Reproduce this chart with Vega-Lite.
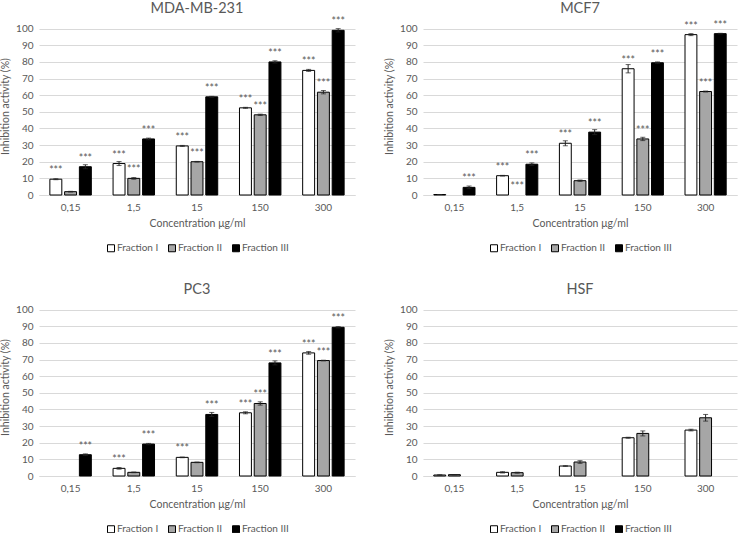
{
  "$schema": "https://vega.github.io/schema/vega-lite/v6.json",
  "padding": {"left": 0, "top": 0, "right": 2, "bottom": 0},
  "background": "white",
  "datasets": {
    "d": [
      {"cell": "MDA-MB-231", "conc": "0,15", "frac": "Fraction I", "v": 9.5, "e": 0.3, "sig": "***"},
      {"cell": "MDA-MB-231", "conc": "0,15", "frac": "Fraction II", "v": 2, "e": 0.2, "sig": ""},
      {"cell": "MDA-MB-231", "conc": "0,15", "frac": "Fraction III", "v": 17, "e": 1.2, "sig": "***"},
      {"cell": "MDA-MB-231", "conc": "1,5", "frac": "Fraction I", "v": 18.9, "e": 1.2, "sig": "***"},
      {"cell": "MDA-MB-231", "conc": "1,5", "frac": "Fraction II", "v": 10, "e": 0.5, "sig": "***"},
      {"cell": "MDA-MB-231", "conc": "1,5", "frac": "Fraction III", "v": 33.7, "e": 0.5, "sig": "***"},
      {"cell": "MDA-MB-231", "conc": "15", "frac": "Fraction I", "v": 29.5, "e": 0.3, "sig": "***"},
      {"cell": "MDA-MB-231", "conc": "15", "frac": "Fraction II", "v": 20, "e": 0.2, "sig": "***"},
      {"cell": "MDA-MB-231", "conc": "15", "frac": "Fraction III", "v": 59, "e": 0.3, "sig": "***"},
      {"cell": "MDA-MB-231", "conc": "150", "frac": "Fraction I", "v": 52.4, "e": 0.3, "sig": "***"},
      {"cell": "MDA-MB-231", "conc": "150", "frac": "Fraction II", "v": 48.2, "e": 0.4, "sig": "***"},
      {"cell": "MDA-MB-231", "conc": "150", "frac": "Fraction III", "v": 80, "e": 0.7, "sig": "***"},
      {"cell": "MDA-MB-231", "conc": "300", "frac": "Fraction I", "v": 74.9, "e": 0.6, "sig": "***"},
      {"cell": "MDA-MB-231", "conc": "300", "frac": "Fraction II", "v": 61.8, "e": 1, "sig": "***"},
      {"cell": "MDA-MB-231", "conc": "300", "frac": "Fraction III", "v": 99, "e": 1, "sig": "***"},

      {"cell": "MCF7", "conc": "0,15", "frac": "Fraction I", "v": 0.3, "e": 0, "sig": ""},
      {"cell": "MCF7", "conc": "0,15", "frac": "Fraction III", "v": 4.6, "e": 0.8, "sig": "***"},
      {"cell": "MCF7", "conc": "1,5", "frac": "Fraction I", "v": 11.6, "e": 0.2, "sig": "***"},
      {"cell": "MCF7", "conc": "1,5", "frac": "Fraction II", "v": 0, "e": 0, "sig": "***"},
      {"cell": "MCF7", "conc": "1,5", "frac": "Fraction III", "v": 18.5, "e": 0.8, "sig": "***"},
      {"cell": "MCF7", "conc": "15", "frac": "Fraction I", "v": 31.1, "e": 1.5, "sig": "***"},
      {"cell": "MCF7", "conc": "15", "frac": "Fraction II", "v": 8.6, "e": 0.4, "sig": ""},
      {"cell": "MCF7", "conc": "15", "frac": "Fraction III", "v": 37.8, "e": 1.5, "sig": "***"},
      {"cell": "MCF7", "conc": "150", "frac": "Fraction I", "v": 75.9, "e": 2.5, "sig": "***"},
      {"cell": "MCF7", "conc": "150", "frac": "Fraction II", "v": 33.7, "e": 1, "sig": "***"},
      {"cell": "MCF7", "conc": "150", "frac": "Fraction III", "v": 79.5, "e": 0.5, "sig": "***"},
      {"cell": "MCF7", "conc": "300", "frac": "Fraction I", "v": 96.4, "e": 0.6, "sig": "***"},
      {"cell": "MCF7", "conc": "300", "frac": "Fraction II", "v": 62.2, "e": 0.3, "sig": "***"},
      {"cell": "MCF7", "conc": "300", "frac": "Fraction III", "v": 97, "e": 0.2, "sig": "***"},

      {"cell": "PC3", "conc": "0,15", "frac": "Fraction III", "v": 12.8, "e": 0.5, "sig": "***"},
      {"cell": "PC3", "conc": "1,5", "frac": "Fraction I", "v": 4.6, "e": 0.5, "sig": "***"},
      {"cell": "PC3", "conc": "1,5", "frac": "Fraction II", "v": 2.2, "e": 0.2, "sig": ""},
      {"cell": "PC3", "conc": "1,5", "frac": "Fraction III", "v": 19.2, "e": 0.4, "sig": "***"},
      {"cell": "PC3", "conc": "15", "frac": "Fraction I", "v": 11.2, "e": 0.2, "sig": "***"},
      {"cell": "PC3", "conc": "15", "frac": "Fraction II", "v": 8.2, "e": 0.2, "sig": ""},
      {"cell": "PC3", "conc": "15", "frac": "Fraction III", "v": 37, "e": 1.2, "sig": "***"},
      {"cell": "PC3", "conc": "150", "frac": "Fraction I", "v": 38, "e": 0.6, "sig": "***"},
      {"cell": "PC3", "conc": "150", "frac": "Fraction II", "v": 43.6, "e": 1, "sig": "***"},
      {"cell": "PC3", "conc": "150", "frac": "Fraction III", "v": 68, "e": 1.2, "sig": "***"},
      {"cell": "PC3", "conc": "300", "frac": "Fraction I", "v": 74, "e": 0.8, "sig": "***"},
      {"cell": "PC3", "conc": "300", "frac": "Fraction II", "v": 69.4, "e": 0.2, "sig": "***"},
      {"cell": "PC3", "conc": "300", "frac": "Fraction III", "v": 89.4, "e": 0.4, "sig": "***"},

      {"cell": "HSF", "conc": "0,15", "frac": "Fraction I", "v": 0.6, "e": 0.1, "sig": ""},
      {"cell": "HSF", "conc": "0,15", "frac": "Fraction II", "v": 0.8, "e": 0.1, "sig": ""},
      {"cell": "HSF", "conc": "1,5", "frac": "Fraction I", "v": 2.2, "e": 0.4, "sig": ""},
      {"cell": "HSF", "conc": "1,5", "frac": "Fraction II", "v": 2, "e": 0.3, "sig": ""},
      {"cell": "HSF", "conc": "15", "frac": "Fraction I", "v": 6, "e": 0.2, "sig": ""},
      {"cell": "HSF", "conc": "15", "frac": "Fraction II", "v": 8.4, "e": 0.8, "sig": ""},
      {"cell": "HSF", "conc": "150", "frac": "Fraction I", "v": 23, "e": 0.3, "sig": ""},
      {"cell": "HSF", "conc": "150", "frac": "Fraction II", "v": 25.6, "e": 1.5, "sig": ""},
      {"cell": "HSF", "conc": "300", "frac": "Fraction I", "v": 27.6, "e": 0.5, "sig": ""},
      {"cell": "HSF", "conc": "300", "frac": "Fraction II", "v": 35, "e": 2, "sig": ""}
    ]
  },
  "data": {"name": "d"},
  "columns": 2,
  "spacing": {"row": 27, "column": 29},
  "resolve": {"scale": {"fill": "independent", "x": "independent", "y": "independent", "xOffset": "independent"}, "legend": {"fill": "independent"}},
  "concat": [
    {
      "title": "MDA-MB-231",
      "width": 316, "height": 178,
      "transform": [{"filter": "datum.cell === 'MDA-MB-231'"}],
      "encoding": {
        "x": {"field": "conc", "type": "nominal", "sort": ["0,15", "1,5", "15", "150", "300"], "scale": {"paddingInner": 0.344, "paddingOuter": 0.172}, "axis": {"title": "Concentration μg/ml"}},
        "xOffset": {"field": "frac", "type": "nominal", "sort": ["Fraction I", "Fraction II", "Fraction III"], "scale": {"domain": ["Fraction I", "Fraction II", "Fraction III"], "paddingInner": 0.19, "paddingOuter": 0}},
        "y": {"field": "v", "type": "quantitative", "scale": {"domain": [0, 107], "nice": false}, "axis": {"title": "Inhibition activity (%)", "values": [0, 10, 20, 30, 40, 50, 60, 70, 80, 90, 100]}}
      },
      "layer": [
        {"transform": [{"filter": "datum.v > 0"}], "mark": {"type": "bar", "stroke": "#000000", "strokeWidth": 1},
         "encoding": {"fill": {"field": "frac", "type": "nominal", "scale": {"domain": ["Fraction I", "Fraction II", "Fraction III"], "range": ["#ffffff", "#a6a6a6", "#000000"]}, "legend": {"orient": "bottom", "direction": "horizontal", "title": null}}}},
        {"transform": [{"filter": "datum.v > 0"}], "mark": {"type": "errorbar", "ticks": {"size": 5}, "color": "#222222"}, "encoding": {"yError": {"field": "e"}}},
        {"mark": {"type": "text", "dy": -5, "baseline": "alphabetic", "fontSize": 10.5, "color": "#595959"}, "encoding": {"text": {"field": "sig"}}}
      ]
    },
    {
      "title": "MCF7",
      "width": 314, "height": 178,
      "transform": [{"filter": "datum.cell === 'MCF7'"}],
      "encoding": {
        "x": {"field": "conc", "type": "nominal", "sort": ["0,15", "1,5", "15", "150", "300"], "scale": {"paddingInner": 0.344, "paddingOuter": 0.172}, "axis": {"title": "Concentration μg/ml"}},
        "xOffset": {"field": "frac", "type": "nominal", "sort": ["Fraction I", "Fraction II", "Fraction III"], "scale": {"domain": ["Fraction I", "Fraction II", "Fraction III"], "paddingInner": 0.19, "paddingOuter": 0}},
        "y": {"field": "v", "type": "quantitative", "scale": {"domain": [0, 107], "nice": false}, "axis": {"title": "Inhibition activity (%)", "values": [0, 10, 20, 30, 40, 50, 60, 70, 80, 90, 100]}}
      },
      "layer": [
        {"transform": [{"filter": "datum.v > 0"}], "mark": {"type": "bar", "stroke": "#000000", "strokeWidth": 1},
         "encoding": {"fill": {"field": "frac", "type": "nominal", "scale": {"domain": ["Fraction I", "Fraction II", "Fraction III"], "range": ["#ffffff", "#a6a6a6", "#000000"]}, "legend": {"orient": "bottom", "direction": "horizontal", "title": null}}}},
        {"transform": [{"filter": "datum.v > 0"}], "mark": {"type": "errorbar", "ticks": {"size": 5}, "color": "#222222"}, "encoding": {"yError": {"field": "e"}}},
        {"mark": {"type": "text", "dy": -5, "baseline": "alphabetic", "fontSize": 10.5, "color": "#595959"}, "encoding": {"text": {"field": "sig"}}}
      ]
    },
    {
      "title": "PC3",
      "width": 316, "height": 178,
      "transform": [{"filter": "datum.cell === 'PC3'"}],
      "encoding": {
        "x": {"field": "conc", "type": "nominal", "sort": ["0,15", "1,5", "15", "150", "300"], "scale": {"domain": ["0,15", "1,5", "15", "150", "300"], "paddingInner": 0.344, "paddingOuter": 0.172}, "axis": {"title": "Concentration μg/ml"}},
        "xOffset": {"field": "frac", "type": "nominal", "sort": ["Fraction I", "Fraction II", "Fraction III"], "scale": {"domain": ["Fraction I", "Fraction II", "Fraction III"], "paddingInner": 0.19, "paddingOuter": 0}},
        "y": {"field": "v", "type": "quantitative", "scale": {"domain": [0, 107], "nice": false}, "axis": {"title": "Inhibition activity (%)", "values": [0, 10, 20, 30, 40, 50, 60, 70, 80, 90, 100]}}
      },
      "layer": [
        {"transform": [{"filter": "datum.v > 0"}], "mark": {"type": "bar", "stroke": "#000000", "strokeWidth": 1},
         "encoding": {"fill": {"field": "frac", "type": "nominal", "scale": {"domain": ["Fraction I", "Fraction II", "Fraction III"], "range": ["#ffffff", "#a6a6a6", "#000000"]}, "legend": {"orient": "bottom", "direction": "horizontal", "title": null}}}},
        {"transform": [{"filter": "datum.v > 0"}], "mark": {"type": "errorbar", "ticks": {"size": 5}, "color": "#222222"}, "encoding": {"yError": {"field": "e"}}},
        {"mark": {"type": "text", "dy": -5, "baseline": "alphabetic", "fontSize": 10.5, "color": "#595959"}, "encoding": {"text": {"field": "sig"}}}
      ]
    },
    {
      "title": "HSF",
      "width": 314, "height": 178,
      "transform": [{"filter": "datum.cell === 'HSF'"}],
      "encoding": {
        "x": {"field": "conc", "type": "nominal", "sort": ["0,15", "1,5", "15", "150", "300"], "scale": {"paddingInner": 0.344, "paddingOuter": 0.172}, "axis": {"title": "Concentration μg/ml"}},
        "xOffset": {"field": "frac", "type": "nominal", "sort": ["Fraction I", "Fraction II", "Fraction III"], "scale": {"domain": ["Fraction I", "Fraction II", "Fraction III"], "paddingInner": 0.19, "paddingOuter": 0}},
        "y": {"field": "v", "type": "quantitative", "scale": {"domain": [0, 107], "nice": false}, "axis": {"title": "Inhibition activity (%)", "values": [0, 10, 20, 30, 40, 50, 60, 70, 80, 90, 100]}}
      },
      "layer": [
        {"transform": [{"filter": "datum.v > 0"}], "mark": {"type": "bar", "stroke": "#000000", "strokeWidth": 1},
         "encoding": {"fill": {"field": "frac", "type": "nominal", "scale": {"domain": ["Fraction I", "Fraction II", "Fraction III"], "range": ["#ffffff", "#a6a6a6", "#000000"]}, "legend": {"orient": "bottom", "direction": "horizontal", "title": null}}}},
        {"transform": [{"filter": "datum.v > 0"}], "mark": {"type": "errorbar", "ticks": {"size": 5}, "color": "#222222"}, "encoding": {"yError": {"field": "e"}}},
        {"mark": {"type": "text", "dy": -5, "baseline": "alphabetic", "fontSize": 10.5, "color": "#595959"}, "encoding": {"text": {"field": "sig"}}}
      ]
    }
  ],
  "config": {
    "font": "Lato",
    "view": {"stroke": null},
    "title": {"fontSize": 14.5, "fontWeight": "normal", "color": "#595959", "offset": 1, "anchor": "middle"},
    "axis": {"labelColor": "#595959", "titleColor": "#595959", "labelFontSize": 10, "titleFontSize": 10.5, "titleFontWeight": "normal", "ticks": false, "gridColor": "#d9d9d9", "domainColor": "#d9d9d9"},
    "axisX": {"labelAngle": 0, "labelPadding": 7, "titlePadding": 6, "grid": false},
    "axisY": {"domain": false, "labelPadding": 6, "titlePadding": 5},
    "legend": {"labelColor": "#595959", "labelFontSize": 10, "symbolType": "square", "symbolSize": 49, "symbolStrokeColor": "#000000", "symbolStrokeWidth": 1, "columnPadding": 7, "offset": 14, "labelOffset": 1, "layout": {"bottom": {"anchor": "middle"}}}
  }
}
